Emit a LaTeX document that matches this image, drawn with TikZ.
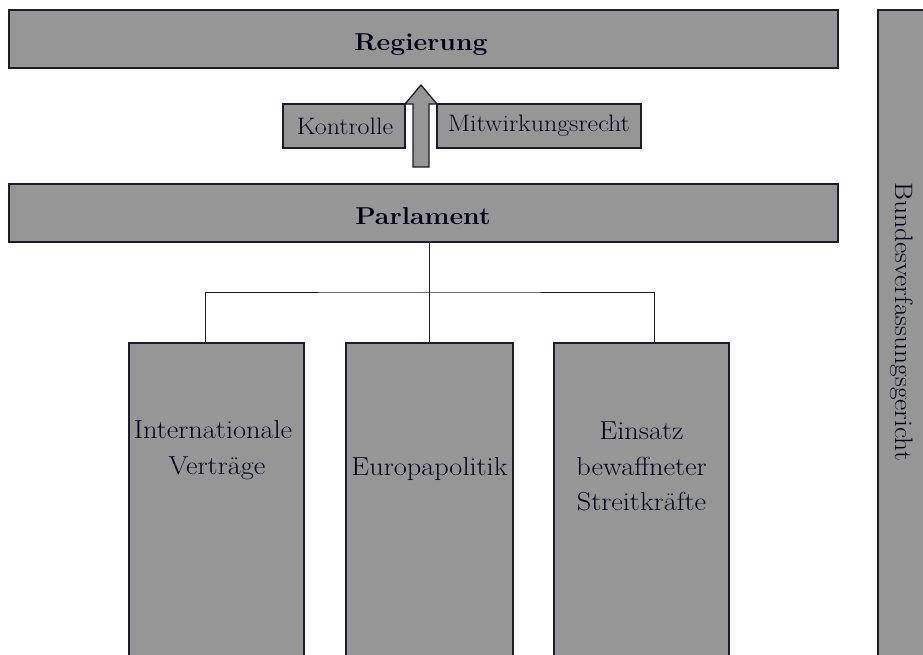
\documentclass[tikz,border=0pt]{standalone}
\usepackage{fontspec}
\setmainfont{Latin Modern Roman}[FakeStretch=1.09]
\usepackage{tikz}
\definecolor{boxfill}{RGB}{150,150,150}
\definecolor{boxline}{RGB}{28,28,45}
\begin{document}
\begin{tikzpicture}[x=1pt,y=-1pt,
  box/.style={draw=boxline,fill=boxfill,line width=1.3pt,inner sep=0pt,outer sep=0pt},
  big/.style={font=\fontsize{26}{36}\selectfont,inner sep=0pt,text=black!90!blue},
  mid/.style={font=\fontsize{23.8}{28}\selectfont,inner sep=0pt,text=black!90!blue},
  head/.style={font=\fontsize{24.4}{30}\selectfont\bfseries,inner sep=0pt,text=black!90!blue},
  conn/.style={draw=boxline,line width=1pt}]
\useasboundingbox (0,0) rectangle (923,654);
% top boxes
\node[box,minimum width=829pt,minimum height=58pt] (reg) at (423.5,39) {};
\node[head,anchor=base] (regt) at (421,50) {Regierung};
\node[box,minimum width=829pt,minimum height=58pt] (par) at (423.5,213) {};
\node[head,anchor=base] (part) at (423,224) {Parlament};
% middle labels
\node[box,minimum width=122pt,minimum height=44pt] (kon) at (344,126) {};
\node[mid] (kont) at (345,126) {Kontrolle};
\node[box,minimum width=204pt,minimum height=44pt] (mit) at (539,126) {};
\node[mid] (mitt) at (539,126) {Mitwirkungsrecht};
% block arrow
\draw[box] (413,167) -- (413,104) -- (405,104) -- (421,85) -- (437,104) -- (429,104) -- (429,167) -- cycle;
% bottom boxes
\node[box,minimum width=175pt,minimum height=320pt,anchor=north west] (b1) at (129,343) {};
\node[box,minimum width=167pt,minimum height=320pt,anchor=north west] (b2) at (346,343) {};
\node[box,minimum width=175pt,minimum height=320pt,anchor=north west] (b3) at (554,343) {};
\node[big,anchor=base] (b1a) at (213,438) {Internationale};
\node[big,anchor=base] (b1b) at (217,474) {Verträge};
\node[big,anchor=base] (b2a) at (429.5,475) {Europapolitik};
\node[big,anchor=base] (b3a) at (641.5,439) {Einsatz};
\node[big,anchor=base] (b3b) at (641.5,475) {bewaffneter};
\node[big,anchor=base] (b3c) at (641.5,510) {Streitkräfte};
% right box
\node[box,minimum width=52pt,minimum height=650pt,anchor=north west] (bvg) at (878,10) {};
\node[font=\fontsize{25.2}{30}\selectfont,inner sep=0pt,text=black!90!blue,anchor=base,rotate=-90] (bvgt) at (895,321.5) {Bundesverfassungsgericht};
% connectors
\coordinate (j) at (429,292);
\coordinate (t1) at (205,343);
\coordinate (t3) at (654,343);
\draw[conn] (par.south -| j) -- (b2.north -| j);
\draw[conn] (t1) |- (j) -| (t3);
\end{tikzpicture}
\end{document}
